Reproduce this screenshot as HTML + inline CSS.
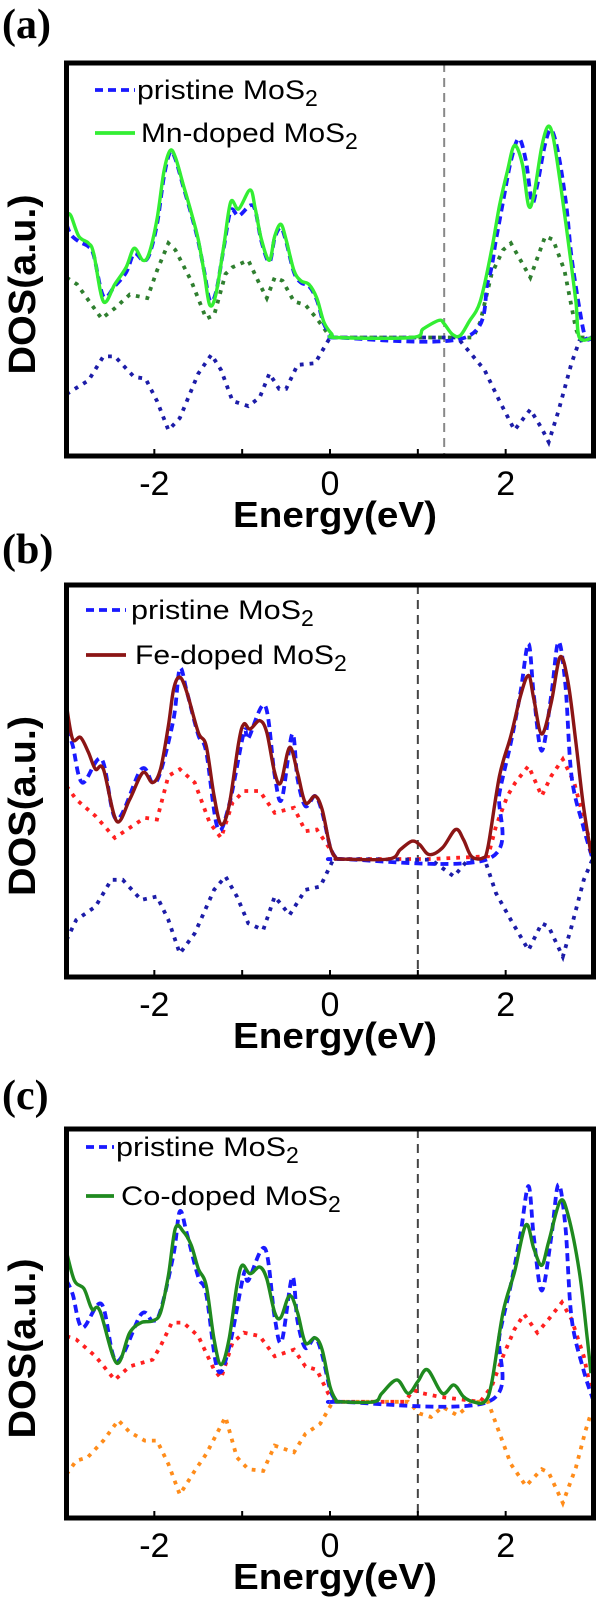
<!DOCTYPE html>
<html><head><meta charset="utf-8">
<style>
html,body{margin:0;padding:0;background:#fff;}
svg{display:block;}
</style></head>
<body>
<svg id="fig" width="600" height="1602" viewBox="0 0 600 1602" xmlns="http://www.w3.org/2000/svg"></svg>
<script>
// ===== Panel (a) data =====
const aPristineE = [-3,-2.95,-2.86,-2.75,-2.69,-2.58,-2.45,-2.32,-2.23,-2.13,-2.06,-1.97,-1.89,-1.82,-1.76,-1.67,-1.58,-1.5,-1.43,-1.37,-1.3,-1.21,-1.13,-1.04,-0.91,-0.85,-0.78,-0.69,-0.63,-0.56,-0.5,-0.41,-0.33,-0.24,-0.15,-0.07,0.02,0.07,1.54,1.8,1.89,1.97,2.06,2.15,2.23,2.3,2.36,2.45,2.52,2.6,2.69,2.75,2.84,2.91,3];
const aPristineV = [3.3,3.0,2.8,2.65,2.4,1.2,1.5,1.9,2.45,2.25,2.4,3.3,4.7,5.4,5.2,4.4,3.6,2.8,1.9,1.1,1.3,2.6,3.7,3.55,3.85,3.7,2.8,2.2,2.9,3.2,2.8,1.9,1.6,1.5,1.1,0.4,0.05,0,0,1.65,2.85,3.95,5.15,5.8,5.15,3.95,4.45,5.65,6.05,5.35,3.85,2.35,0.85,0,0];
const aDopedE = [-3,-2.95,-2.86,-2.75,-2.69,-2.58,-2.45,-2.32,-2.23,-2.13,-2.06,-1.97,-1.89,-1.82,-1.76,-1.67,-1.58,-1.5,-1.43,-1.37,-1.3,-1.21,-1.13,-1.04,-0.91,-0.85,-0.78,-0.69,-0.63,-0.56,-0.5,-0.41,-0.33,-0.24,-0.15,-0.07,0.02,0.07,0.93,1.06,1.24,1.3,1.39,1.48,1.58,1.71,1.84,1.93,2.02,2.1,2.19,2.26,2.32,2.41,2.48,2.54,2.62,2.71,2.8,2.84,3];
const aDopedV = [3.6,3.55,2.95,2.75,2.45,1.05,1.55,2.05,2.6,2.25,2.45,3.45,4.85,5.45,5.25,4.45,3.65,2.85,1.85,0.95,1.25,2.65,3.95,3.75,4.3,3.75,2.85,2.25,2.95,3.3,2.85,1.95,1.65,1.55,1.15,0.45,0.1,0,0,0.25,0.5,0.4,0.1,0.05,0.45,1.05,2.55,3.85,4.85,5.6,5.05,3.85,4.15,5.55,6.15,5.85,4.55,2.85,1.05,0,0];
const aUpE = [-3,-2.88,-2.6,-2.45,-2.28,-2.08,-1.97,-1.84,-1.76,-1.58,-1.41,-1.32,-1.19,-1.11,-0.93,-0.8,-0.72,-0.63,-0.54,-0.41,-0.28,-0.15,-0.02,0.04,1.63,1.71,1.84,1.97,2.06,2.28,2.45,2.54,2.67,2.8,2.84,3];
const aUpV = [1.75,1.55,0.55,0.85,1.25,1.15,1.95,2.75,2.55,1.65,0.55,0.65,1.85,2.05,2.25,1.55,1.15,1.75,1.65,1.05,0.95,0.55,0.1,0,0,0.45,1.85,2.55,2.75,1.75,2.95,2.85,1.95,0.25,0,0];
const aDownE = [-3,-2.75,-2.58,-2.45,-2.23,-2.1,-1.97,-1.84,-1.71,-1.5,-1.35,-1.24,-1.11,-0.93,-0.8,-0.69,-0.58,-0.5,-0.37,-0.17,0,1.45,1.63,1.76,1.93,2.1,2.28,2.41,2.49,2.6,2.75,2.84,3];
const aDownV = [-1.65,-1.25,-0.55,-0.55,-1.15,-1.2,-1.85,-2.7,-2.35,-1.05,-0.5,-0.95,-1.85,-2.0,-1.75,-1.05,-1.5,-1.5,-0.8,-0.75,0,0,-0.55,-0.95,-1.85,-2.7,-2.1,-2.65,-3.05,-2.15,-0.75,-0.1,0];
// ===== Panel (b) data =====
const bPristineE = [-3,-2.93,-2.82,-2.6,-2.43,-2.15,-2.02,-1.93,-1.78,-1.71,-1.63,-1.5,-1.41,-1.28,-1.15,-0.98,-0.93,-0.74,-0.63,-0.55,-0.43,-0.37,-0.28,-0.17,-0.09,0,0.07,0.11,1.8,1.93,2.06,2.17,2.26,2.32,2.41,2.52,2.6,2.68,2.75,2.88,2.99];
const bPristineV = [3.88,3.4,2.28,2.98,1.18,2.68,2.28,2.6,4.2,5.68,5.0,3.7,3.2,0.93,1.6,3.78,3.6,4.58,2.5,1.78,3.73,2.4,1.58,1.88,1.4,0.38,0.03,0,0,1.98,3.48,5.0,6.43,4.9,3.23,4.9,6.48,5.2,2.48,1.0,0];
const bDopedE = [-3,-2.93,-2.84,-2.75,-2.67,-2.58,-2.43,-2.28,-2.13,-2.02,-1.93,-1.84,-1.78,-1.71,-1.63,-1.5,-1.41,-1.32,-1.24,-1.15,-1.04,-0.98,-0.91,-0.8,-0.72,-0.63,-0.56,-0.46,-0.37,-0.28,-0.17,-0.09,0,0.07,0.11,0.67,0.8,0.93,1.02,1.13,1.28,1.43,1.52,1.61,1.74,1.8,1.93,2.06,2.17,2.26,2.32,2.41,2.52,2.62,2.71,2.8,2.88,2.97];
const bDopedV = [4.58,3.58,3.63,3.18,2.68,2.68,1.13,1.78,2.58,2.28,2.68,3.98,5.08,5.43,4.98,3.78,3.38,1.88,1.03,1.58,3.48,4.03,3.88,4.13,3.78,2.58,2.28,3.33,2.58,1.68,1.88,1.48,0.38,0.03,0,0,0.28,0.53,0.43,0.13,0.33,0.88,0.58,0.08,0.03,0.38,2.48,3.68,4.88,5.48,4.78,3.73,4.68,6.03,5.28,3.48,1.68,0.18];
const bUpE = [-3,-2.89,-2.67,-2.45,-2.28,-2.11,-1.97,-1.84,-1.71,-1.54,-1.37,-1.24,-1.11,-0.98,-0.8,-0.63,-0.41,-0.28,-0.15,-0.02,0.07,1.15,1.8,1.89,2.02,2.11,2.26,2.41,2.52,2.65,2.78,2.91,2.99];
const bUpV = [2.18,1.78,1.28,0.63,0.93,1.23,1.18,2.48,2.68,2.28,1.08,0.63,1.68,2.03,2.03,1.38,1.53,0.83,0.88,0.38,0,0,0.08,0.98,1.88,2.28,2.78,1.88,2.48,2.98,2.28,0.98,0.28];
const bDownE = [-3,-2.89,-2.67,-2.49,-2.36,-2.15,-1.97,-1.84,-1.71,-1.54,-1.32,-1.19,-1.06,-0.93,-0.76,-0.63,-0.46,-0.28,-0.11,0.04,1.15,1.41,1.58,1.76,1.89,2.06,2.26,2.41,2.49,2.65,2.75,2.89,2.99];
const bDownV = [-2.42,-1.82,-1.42,-0.62,-0.62,-1.22,-1.12,-1.82,-2.82,-2.22,-0.92,-0.52,-1.12,-1.92,-2.12,-1.12,-1.67,-0.92,-0.82,0,-0.02,-0.52,0,0,-1.02,-1.82,-2.72,-1.92,-2.02,-2.92,-2.02,-0.62,0];
// ===== Panel (c) data =====
const cPristineE = bPristineE.slice();
const cPristineV = [3.6,3.2,2.2,2.9,1.2,2.6,2.4,2.7,4.4,5.65,5.0,3.7,3.2,0.95,1.6,3.8,3.6,4.55,2.5,1.8,3.7,2.4,1.6,1.9,1.4,0.38,0.03,0,0,1.98,3.48,5.0,6.4,4.9,3.3,4.9,6.45,5.2,2.5,1.0,0.1];
const cDopedE = [-3,-2.91,-2.8,-2.71,-2.62,-2.43,-2.28,-2.15,-2.02,-1.93,-1.84,-1.76,-1.67,-1.58,-1.5,-1.41,-1.32,-1.24,-1.15,-1.06,-1.0,-0.91,-0.8,-0.72,-0.63,-0.56,-0.46,-0.37,-0.28,-0.17,-0.09,0,0.07,0.11,0.5,0.59,0.76,0.89,1.0,1.11,1.28,1.41,1.52,1.63,1.76,1.84,1.97,2.1,2.23,2.32,2.41,2.49,2.62,2.71,2.84,2.93,2.97];
const cDopedV = [4.45,3.6,3.35,2.75,2.7,1.15,2.05,2.35,2.4,2.65,3.75,5.15,5.05,4.65,3.95,3.45,1.85,1.1,1.85,3.45,4.05,3.8,4.0,3.65,2.65,2.5,3.15,2.65,1.75,1.9,1.55,0.45,0.05,0,0,0.25,0.65,0.25,0.6,0.95,0.25,0.5,0.15,0,0,0.55,2.65,3.85,5.25,4.55,4.05,4.75,5.95,5.55,3.85,1.85,0.85];
const cUpE = [-3,-2.89,-2.67,-2.45,-2.28,-2.02,-1.93,-1.8,-1.67,-1.5,-1.32,-1.24,-1.11,-0.98,-0.8,-0.63,-0.41,-0.28,-0.15,-0.02,0.07,0.85,0.95,1.06,1.24,1.71,1.84,1.97,2.1,2.21,2.36,2.49,2.64,2.75,2.89,2.97];
const cUpV = [1.95,1.85,1.35,0.65,1.05,1.25,1.65,2.35,2.35,1.95,0.95,0.7,1.75,2.05,1.95,1.35,1.55,1.05,0.95,0.25,0,0,0.35,0.25,0.15,0,0.45,1.35,2.15,2.6,2.05,2.45,2.95,2.45,1.35,0.35];
const cDownE = [-3,-2.89,-2.76,-2.58,-2.41,-2.28,-2.11,-1.97,-1.84,-1.71,-1.54,-1.41,-1.19,-1.06,-0.93,-0.76,-0.63,-0.41,-0.28,-0.11,0.02,0.07,0.89,1.02,1.15,1.28,1.45,1.63,1.8,1.89,2.06,2.23,2.41,2.49,2.65,2.8,2.91,2.97];
const cDownV = [-2.15,-1.75,-1.65,-1.15,-0.55,-0.9,-1.15,-1.15,-1.85,-2.75,-2.05,-1.55,-0.45,-1.65,-2.0,-2.05,-1.3,-1.5,-0.95,-0.65,-0.05,0,0,-0.35,-0.45,-0.15,-0.4,0,0,-0.65,-1.85,-2.5,-2.0,-2.1,-3.0,-1.95,-0.85,-0.35];

const xTicks = [-2,-1,0,1,2];
const xTickLabels = ["-2","","0","","2"];
const panelLabels = ["(a)","(b)","(c)"];
const fermiLines = [1.3, 1.0, 1.0];

const NS = "http://www.w3.org/2000/svg";
const svg = document.getElementById('fig');
function mk(tag, attrs, parent){
  const e = document.createElementNS(NS, tag);
  for (const k in attrs) e.setAttribute(k, attrs[k]);
  (parent||svg).appendChild(e);
  return e;
}
function smoothPath(pts){
  let d = "M" + pts[0][0].toFixed(1) + "," + pts[0][1].toFixed(1);
  for (let i=0;i<pts.length-1;i++){
    const p0=pts[Math.max(0,i-1)], p1=pts[i], p2=pts[i+1], p3=pts[Math.min(pts.length-1,i+2)];
    const c1x=p1[0]+(p2[0]-p0[0])/6, c1y=p1[1]+(p2[1]-p0[1])/6;
    const c2x=p2[0]-(p3[0]-p1[0])/6, c2y=p2[1]-(p3[1]-p1[1])/6;
    d += " C"+c1x.toFixed(1)+","+c1y.toFixed(1)+" "+c2x.toFixed(1)+","+c2y.toFixed(1)+" "+p2[0].toFixed(1)+","+p2[1].toFixed(1);
  }
  return d;
}

const panels = [
  {key:'a', top:63, bottom:456, base:337.5, k:34.3, label:[2,38], fermiColor:'#888',
   legend:{lineX:[95,135], textX:[137,141], rows:[90,133], w:[183,219]},
   dopedName:'Mn-doped MoS', dopedColor:'#33ee33', upColor:'#2f7f2f', downColor:'#1c1ca8',
   series:[[aUpE,aUpV,'up'],[aDownE,aDownV,'down'],[aPristineE,aPristineV,'pristine'],[aDopedE,aDopedV,'doped']]},
  {key:'b', top:585, bottom:977, base:859, k:33.5, label:[2,563], fermiColor:'#444',
   legend:{lineX:[86,126], textX:[131,135], rows:[610,655], w:[185,214]},
   dopedName:'Fe-doped MoS', dopedColor:'#8b1515', upColor:'#ff2020', downColor:'#1c1ca8',
   series:[[bUpE,bUpV,'up'],[bDownE,bDownV,'down'],[bPristineE,bPristineV,'pristine'],[bDopedE,bDopedV,'doped']]},
  {key:'c', top:1129, bottom:1518, base:1401.8, k:33.7, label:[2,1109], fermiColor:'#444',
   legend:{lineX:[86,114], textX:[116,121], rows:[1147,1196], w:[185,222]},
   dopedName:'Co-doped MoS', dopedColor:'#1f8a1f', upColor:'#ff2020', downColor:'#ff8c1a',
   series:[[cUpE,cUpV,'up'],[cDownE,cDownV,'down'],[cPristineE,cPristineV,'pristine'],[cDopedE,cDopedV,'doped']]}
];
const L = 66.5, R = 593.5;
const xScale = e => L + (e + 3) * (R - L) / 6;

panels.forEach((p, pi) => {
  const g = mk('g', {});
  
  
  const yScale = v => p.base - v * p.k;

  const lab = mk('text', {x:p.label[0], y:p.label[1], 'font-family':'Liberation Serif, serif', 'font-weight':'bold', 'font-size':'42'}, g);
  lab.textContent = panelLabels[pi];
  
  

  const clip = mk('clipPath', {id:'clip'+p.key}, g);
  mk('rect', {x:L, y:p.top, width:R-L, height:p.bottom-p.top}, clip);
  const plot = mk('g', {'clip-path':'url(#clip'+p.key+')'}, g);
  
  

  const fx = xScale(fermiLines[pi]);
  const fl = mk('line', {x1:fx, x2:fx, y1:p.top, y2:p.bottom, stroke:p.fermiColor, 'stroke-width':2, 'stroke-dasharray':'9 6'}, plot);
  
  

  p.series.forEach(s => {
    const pts = s[0].map((e, i) => [xScale(e), yScale(s[1][i])]);
    let el;
    if (s[2] === 'up' || s[2] === 'down') {
      el = mk('polyline', {points: pts.map(q => q[0].toFixed(1)+','+q[1].toFixed(1)).join(' '), fill:'none',
        stroke: s[2]==='up' ? p.upColor : p.downColor, 'stroke-width':3.8, 'stroke-dasharray':'3.8 6'}, plot);
    } else if (s[2] === 'pristine') {
      el = mk('path', {d: smoothPath(pts), fill:'none', stroke:'#1a1aff', 'stroke-width':3.8, 'stroke-dasharray':'8 5'}, plot);
    } else {
      el = mk('path', {d: smoothPath(pts), fill:'none', stroke:p.dopedColor, 'stroke-width':3.4}, plot);
    }
    
    
  });

  xTicks.forEach((t, i) => {
    const x = xScale(t);
    const tk = mk('line', {x1:x, x2:x, y1:p.bottom, y2:p.bottom-7, stroke:'#000', 'stroke-width':2}, g);
    
    
    if (xTickLabels[i]) {
      const tl = mk('text', {x:x, y:p.bottom+39, 'text-anchor':'middle', 'font-family':'Liberation Sans, sans-serif', 'font-size':'34'}, g);
      tl.textContent = xTickLabels[i];
      
      
    }
  });

  const fr = mk('rect', {x:L, y:p.top, width:R-L, height:p.bottom-p.top, fill:'none', stroke:'#000', 'stroke-width':5}, g);
  
  

  const xt = mk('text', {x:335, y:p.bottom+71, 'text-anchor':'middle', 'font-family':'Liberation Sans, sans-serif', 'font-weight':'bold', 'font-size':'36', textLength:204, lengthAdjust:'spacingAndGlyphs'}, g);
  xt.textContent = 'Energy(eV)';
  
  

  const cy = (p.top + p.bottom) / 2 + 25;
  const yt = mk('text', {x:0, y:0, transform:'translate(35,'+cy+') rotate(-90)', 'text-anchor':'middle', 'font-family':'Liberation Sans, sans-serif', 'font-weight':'bold', 'font-size':'38', textLength:180, lengthAdjust:'spacingAndGlyphs'}, g);
  yt.textContent = 'DOS(a.u.)';
  
  

  const lg = mk('g', {}, g);
  
  
  const lgd = p.legend;
  const names = ['pristine MoS', p.dopedName];
  [0,1].forEach(r => {
    const y = lgd.rows[r];
    const ln = mk('line', {x1:lgd.lineX[0], x2:lgd.lineX[1], y1:y, y2:y,
      stroke: r===0 ? '#1a1aff' : p.dopedColor, 'stroke-width':3.8, 'stroke-dasharray': r===0 ? '8 5' : 'none'}, lg);
    
    
    const tx = mk('text', {x:lgd.textX[r], y:y+9, 'font-family':'Liberation Sans, sans-serif', 'font-size':'27'}, lg);
    const main = mk('tspan', {textLength:lgd.w[r]-15, lengthAdjust:'spacingAndGlyphs'}, tx);
    main.textContent = names[r];
    const sub = mk('tspan', {dy:7, 'font-size':'23'}, tx);
    sub.textContent = '2';
    
    
  });
});
</script>
</body></html>
